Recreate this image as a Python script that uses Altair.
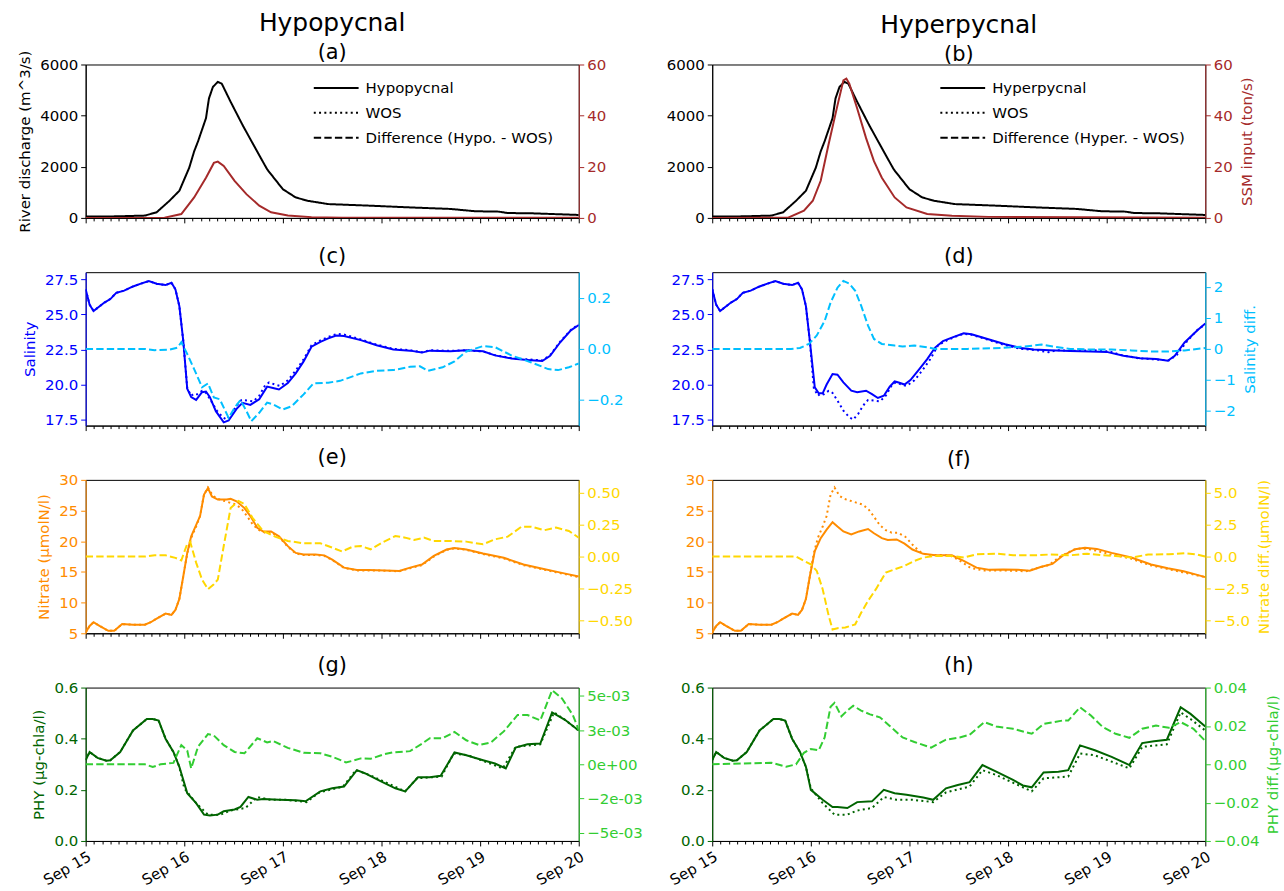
import altair as alt
import pandas as pd

FONT = "DejaVu Sans"
W, H = 495, 154
HSPACE = 134
VSPACE = 54.5

# ---------------- data (t = days since Sep 15 00:00) ----------------
DISCHARGE = [(0, 50), (0.3, 60), (0.6, 90), (0.72, 220), (0.85, 670), (0.95, 1060), (1.05, 1960),
             (1.10, 2600), (1.14, 3000), (1.22, 3900), (1.25, 4670), (1.29, 5120), (1.34, 5320),
             (1.38, 5250), (1.47, 4540), (1.59, 3640), (1.71, 2800), (1.84, 1900), (2.0, 1120),
             (2.13, 800), (2.25, 670), (2.46, 540), (2.87, 480), (3.29, 410), (3.7, 350),
             (3.95, 260), (4.19, 245), (4.28, 190), (4.52, 180), (5.0, 115)]

SSM_HYPO = [(0, 0), (0.8, 0.1), (0.97, 1.5), (1.1, 8), (1.22, 15.7), (1.3, 21.5), (1.34, 22),
            (1.4, 20.3), (1.51, 14.5), (1.63, 9.3), (1.76, 4.8), (1.88, 2.2), (2.05, 0.9),
            (2.29, 0.3), (2.6, 0.1), (5.0, 0.05)]

SSM_HYPER = [(0, 0), (0.77, 0.1), (0.93, 2.8), (1.02, 6.7), (1.1, 14.5), (1.18, 28.8), (1.27, 44),
             (1.33, 53.8), (1.36, 54.5), (1.39, 52.5), (1.47, 42.8), (1.56, 31.2), (1.64, 22.2),
             (1.72, 15.7), (1.85, 8), (1.97, 4.1), (2.18, 1.5), (2.43, 0.8), (2.8, 0.4), (5.0, 0.1)]

SAL_WOS = [(0, 26.8), (0.04, 25.7), (0.08, 25.25), (0.19, 25.85), (0.25, 26.1), (0.31, 26.55),
           (0.39, 26.7), (0.48, 27.0), (0.56, 27.2), (0.64, 27.38), (0.72, 27.2), (0.81, 27.1),
           (0.87, 27.26), (0.91, 26.8), (0.95, 25.6), (0.99, 23.1), (1.03, 19.75), (1.07, 19.2),
           (1.10, 19.35), (1.13, 19.3), (1.18, 19.55), (1.22, 19.4), (1.27, 18.85), (1.33, 18.14),
           (1.39, 17.67), (1.43, 17.5), (1.48, 17.9), (1.53, 18.5), (1.58, 18.9), (1.64, 18.85),
           (1.70, 18.8), (1.76, 19.2), (1.82, 19.95), (1.86, 20.15), (1.92, 20.0), (1.97, 19.9),
           (2.05, 20.3), (2.13, 21.0), (2.21, 21.8), (2.29, 22.8), (2.38, 23.15), (2.46, 23.4),
           (2.55, 23.62), (2.62, 23.57), (2.79, 23.22), (2.95, 22.85), (3.12, 22.55), (3.29, 22.45),
           (3.41, 22.3), (3.49, 22.45), (3.70, 22.4), (3.86, 22.45), (4.03, 22.36), (4.15, 22.1),
           (4.32, 21.88), (4.48, 21.8), (4.63, 21.72), (4.71, 22.1), (4.81, 23.05), (4.92, 23.9),
           (5.0, 24.3)]

SAL_HYPO = [(0, 26.8), (0.04, 25.7), (0.08, 25.25), (0.19, 25.85), (0.25, 26.1), (0.31, 26.55),
            (0.39, 26.7), (0.48, 27.0), (0.56, 27.2), (0.64, 27.38), (0.72, 27.2), (0.81, 27.1),
            (0.87, 27.26), (0.91, 26.8), (0.95, 25.6), (0.99, 23.1), (1.03, 19.7), (1.07, 19.1),
            (1.12, 18.9), (1.18, 19.45), (1.22, 19.5), (1.26, 19.1), (1.32, 18.1), (1.40, 17.3),
            (1.45, 17.43), (1.53, 18.26), (1.59, 18.7), (1.67, 18.55), (1.76, 18.95), (1.84, 19.85),
            (1.90, 19.75), (1.96, 19.65), (2.05, 20.1), (2.13, 20.8), (2.21, 21.65), (2.29, 22.7),
            (2.38, 23.05), (2.46, 23.3), (2.54, 23.5), (2.62, 23.47), (2.79, 23.17), (2.95, 22.8),
            (3.12, 22.5), (3.29, 22.42), (3.41, 22.28), (3.49, 22.42), (3.70, 22.37), (3.86, 22.45),
            (4.03, 22.37), (4.15, 22.08), (4.32, 21.86), (4.48, 21.76), (4.63, 21.68), (4.71, 22.05),
            (4.81, 23.0), (4.92, 23.87), (5.0, 24.25)]

SAL_HYPER = [(0, 26.8), (0.04, 25.7), (0.08, 25.25), (0.19, 25.85), (0.25, 26.1), (0.31, 26.55),
             (0.39, 26.7), (0.48, 27.0), (0.56, 27.2), (0.64, 27.38), (0.72, 27.2), (0.81, 27.1),
             (0.87, 27.26), (0.91, 26.8), (0.95, 25.6), (0.99, 23.1), (1.04, 19.8), (1.08, 19.37),
             (1.12, 19.37), (1.16, 20.0), (1.22, 20.75), (1.27, 20.7), (1.33, 20.15), (1.41, 19.56),
             (1.47, 19.45), (1.56, 19.56), (1.62, 19.32), (1.68, 19.04), (1.74, 19.2), (1.80, 19.85),
             (1.85, 20.22), (1.89, 20.15), (1.95, 20.0), (2.01, 20.32), (2.10, 21.1), (2.18, 21.81),
             (2.26, 22.64), (2.34, 23.1), (2.43, 23.35), (2.55, 23.66), (2.63, 23.59), (2.80, 23.23),
             (2.97, 22.88), (3.13, 22.6), (3.26, 22.5), (3.42, 22.45), (3.63, 22.4), (3.84, 22.36),
             (4.0, 22.33), (4.17, 22.05), (4.34, 21.88), (4.50, 21.83), (4.62, 21.7), (4.69, 22.05),
             (4.79, 23.0), (4.92, 23.88), (5.0, 24.35)]

SAL_DIFF_HYPO = [(0, 0), (0.6, 0), (0.7, -0.005), (0.85, -0.003), (0.93, 0.005), (0.97, 0.026),
                 (1.03, -0.02), (1.10, -0.079), (1.18, -0.15), (1.24, -0.135), (1.30, -0.19),
                 (1.36, -0.197), (1.45, -0.27), (1.51, -0.23), (1.57, -0.2), (1.63, -0.243),
                 (1.68, -0.283), (1.76, -0.25), (1.84, -0.21), (1.90, -0.217), (2.0, -0.237),
                 (2.09, -0.224), (2.21, -0.178), (2.31, -0.135), (2.46, -0.132), (2.58, -0.125),
                 (2.79, -0.096), (2.95, -0.086), (3.12, -0.083), (3.29, -0.07), (3.39, -0.068),
                 (3.47, -0.086), (3.62, -0.072), (3.74, -0.049), (3.86, -0.01), (4.03, 0.011),
                 (4.15, 0.007), (4.32, -0.026), (4.52, -0.053), (4.69, -0.079), (4.79, -0.083),
                 (4.90, -0.072), (5.0, -0.057)]

SAL_DIFF_HYPER = [(0, 0), (0.8, 0), (0.89, 0.03), (0.98, 0.16), (1.06, 0.43), (1.14, 0.9),
                  (1.20, 1.49), (1.27, 1.97), (1.33, 2.19), (1.39, 2.1), (1.45, 1.87), (1.51, 1.39),
                  (1.58, 0.75), (1.64, 0.32), (1.72, 0.16), (1.85, 0.107), (1.93, 0.075),
                  (2.05, 0.107), (2.18, 0.053), (2.26, 0.0), (2.59, 0.0), (2.93, 0.03), (3.17, 0.075),
                  (3.34, 0.14), (3.46, 0.075), (3.63, 0.0), (3.84, -0.02), (4.05, -0.02),
                  (4.25, -0.05), (4.46, -0.085), (4.63, -0.085), (4.79, -0.05), (5.0, 0.03)]

NIT_WOS = [(0, 5.15), (0.04, 6.2), (0.08, 6.8), (0.14, 6.2), (0.23, 5.4), (0.29, 5.4), (0.37, 6.5),
           (0.48, 6.4), (0.60, 6.4), (0.66, 6.8), (0.72, 7.4), (0.81, 8.2), (0.87, 8.0), (0.91, 8.8),
           (0.95, 10.6), (0.99, 14.3), (1.03, 18.0), (1.07, 20.5), (1.12, 22.4), (1.16, 24.1),
           (1.20, 27.6), (1.24, 28.75), (1.29, 27.4), (1.34, 26.9), (1.40, 26.6), (1.46, 26.3),
           (1.52, 26.0), (1.58, 25.3), (1.64, 24.0), (1.70, 22.6), (1.76, 21.8), (1.82, 21.4),
           (1.88, 21.4), (1.96, 20.7), (2.05, 19.1), (2.13, 18.0), (2.21, 17.75), (2.33, 17.75),
           (2.42, 17.6), (2.5, 16.95), (2.62, 15.65), (2.75, 15.25), (2.87, 15.25), (3.04, 15.2),
           (3.18, 15.1), (3.29, 15.6), (3.41, 16.1), (3.53, 17.5), (3.66, 18.6), (3.74, 18.85),
           (3.86, 18.6), (4.03, 17.9), (4.24, 17.2), (4.44, 16.1), (4.61, 15.5), (4.77, 14.95),
           (4.90, 14.5), (5.0, 14.15)]

NIT_HYPO = [(0, 5.15), (0.04, 6.2), (0.08, 6.8), (0.14, 6.2), (0.23, 5.4), (0.29, 5.4), (0.37, 6.5),
            (0.48, 6.4), (0.60, 6.4), (0.66, 6.8), (0.72, 7.4), (0.81, 8.2), (0.87, 8.0), (0.91, 8.8),
            (0.95, 10.6), (0.99, 14.3), (1.03, 18.1), (1.07, 20.8), (1.16, 24.1), (1.20, 27.6),
            (1.24, 28.65), (1.28, 27.3), (1.34, 26.8), (1.43, 26.8), (1.47, 26.9), (1.53, 26.5),
            (1.61, 25.4), (1.67, 24.1), (1.74, 22.2), (1.80, 21.6), (1.88, 21.6), (1.96, 20.8),
            (2.05, 19.2), (2.13, 18.1), (2.21, 17.85), (2.33, 17.85), (2.42, 17.7), (2.5, 17.0),
            (2.62, 15.7), (2.75, 15.3), (2.87, 15.3), (3.04, 15.25), (3.18, 15.15), (3.29, 15.7),
            (3.41, 16.2), (3.53, 17.6), (3.66, 18.65), (3.74, 18.9), (3.86, 18.65), (4.03, 18.0),
            (4.24, 17.3), (4.44, 16.2), (4.61, 15.6), (4.77, 15.05), (4.90, 14.6), (5.0, 14.25)]

NIT_HYPER = [(0, 5.15), (0.04, 6.2), (0.08, 6.8), (0.14, 6.2), (0.23, 5.4), (0.29, 5.4), (0.37, 6.5),
             (0.48, 6.4), (0.60, 6.4), (0.66, 6.8), (0.72, 7.4), (0.81, 8.2), (0.87, 8.0), (0.91, 8.8),
             (0.95, 10.6), (0.99, 14.3), (1.04, 18.4), (1.10, 20.5), (1.16, 21.9), (1.22, 23.1),
             (1.27, 22.4), (1.33, 21.6), (1.41, 21.1), (1.49, 21.6), (1.58, 22.0), (1.64, 21.3),
             (1.72, 20.5), (1.78, 20.2), (1.87, 20.3), (1.95, 19.6), (2.03, 18.65), (2.14, 17.95),
             (2.26, 17.7), (2.43, 17.7), (2.55, 16.8), (2.68, 15.7), (2.80, 15.35), (2.95, 15.4),
             (3.10, 15.35), (3.22, 15.2), (3.33, 15.8), (3.45, 16.3), (3.55, 17.6), (3.68, 18.7),
             (3.78, 18.95), (3.90, 18.75), (4.05, 18.1), (4.25, 17.35), (4.45, 16.2), (4.62, 15.6),
             (4.78, 15.1), (4.90, 14.6), (5.0, 14.15)]

NIT_DIFF_HYPO = [(0, 0), (0.6, 0.0), (0.7, 0.01), (0.81, 0.01), (0.91, -0.01), (0.97, -0.03),
                 (1.03, 0.1), (1.06, 0.115), (1.12, -0.047), (1.18, -0.18), (1.24, -0.255),
                 (1.30, -0.216), (1.34, -0.18), (1.40, 0.083), (1.47, 0.38), (1.55, 0.435),
                 (1.61, 0.41), (1.69, 0.305), (1.80, 0.2), (1.92, 0.156), (2.05, 0.122),
                 (2.21, 0.104), (2.38, 0.104), (2.5, 0.07), (2.6, 0.04), (2.71, 0.078), (2.79, 0.083),
                 (2.89, 0.057), (3.02, 0.115), (3.14, 0.161), (3.24, 0.148), (3.33, 0.13),
                 (3.43, 0.148), (3.53, 0.122), (3.70, 0.122), (3.86, 0.117), (4.03, 0.096),
                 (4.15, 0.135), (4.28, 0.156), (4.42, 0.234), (4.52, 0.234), (4.65, 0.206),
                 (4.77, 0.227), (4.90, 0.2), (5.0, 0.148)]

NIT_DIFF_HYPER = [(0, 0), (0.85, 0), (0.87, -0.08), (0.93, -0.34), (1.0, -0.6), (1.06, -1.12),
                  (1.12, -2.55), (1.18, -4.6), (1.22, -5.7), (1.27, -5.6), (1.35, -5.55),
                  (1.45, -5.3), (1.51, -4.4), (1.58, -3.46), (1.66, -2.55), (1.76, -1.25),
                  (1.85, -1.0), (1.95, -0.73), (2.05, -0.34), (2.14, -0.08), (2.26, 0.05),
                  (2.43, 0.05), (2.55, -0.08), (2.68, 0.18), (2.88, 0.23), (3.05, 0.1), (3.26, 0.1),
                  (3.42, 0.16), (3.63, 0.1), (3.80, 0.23), (3.96, 0.1), (4.09, 0.05), (4.25, -0.08),
                  (4.42, 0.16), (4.63, 0.18), (4.79, 0.26), (4.92, 0.16), (5.0, 0.0)]

PHY_WOS = [(0, 0.316), (0.04, 0.348), (0.12, 0.325), (0.21, 0.314), (0.25, 0.316), (0.35, 0.348),
           (0.48, 0.432), (0.62, 0.477), (0.68, 0.477), (0.74, 0.471), (0.81, 0.4), (0.89, 0.348),
           (0.95, 0.29), (1.0, 0.206), (1.12, 0.148), (1.24, 0.103), (1.37, 0.103), (1.47, 0.119),
           (1.62, 0.129), (1.74, 0.172), (1.87, 0.161), (2.03, 0.161), (2.24, 0.152), (2.37, 0.19),
           (2.61, 0.213), (2.74, 0.277), (2.88, 0.258), (3.24, 0.194), (3.36, 0.245), (3.61, 0.252),
           (3.73, 0.342), (3.88, 0.335), (4.23, 0.284), (4.36, 0.368), (4.61, 0.378), (4.75, 0.503),
           (4.85, 0.477), (5.0, 0.432)]

PHY_HYPO = [(0, 0.316), (0.04, 0.348), (0.12, 0.325), (0.21, 0.314), (0.25, 0.316), (0.35, 0.348),
            (0.48, 0.432), (0.62, 0.477), (0.68, 0.477), (0.74, 0.471), (0.81, 0.4), (0.89, 0.348),
            (0.95, 0.29), (1.03, 0.187), (1.12, 0.148), (1.20, 0.103), (1.26, 0.1), (1.34, 0.103),
            (1.40, 0.116), (1.51, 0.123), (1.57, 0.133), (1.65, 0.172), (1.74, 0.161), (1.80, 0.164),
            (1.96, 0.161), (2.13, 0.159), (2.23, 0.155), (2.38, 0.194), (2.5, 0.206), (2.62, 0.213),
            (2.75, 0.277), (2.83, 0.265), (3.0, 0.232), (3.14, 0.206), (3.24, 0.194), (3.37, 0.249),
            (3.49, 0.249), (3.60, 0.255), (3.74, 0.346), (3.86, 0.335), (4.03, 0.316), (4.15, 0.303),
            (4.26, 0.284), (4.36, 0.365), (4.48, 0.378), (4.61, 0.381), (4.73, 0.503), (4.86, 0.474),
            (5.0, 0.432)]

PHY_HYPER = [(0, 0.316), (0.04, 0.348), (0.12, 0.325), (0.21, 0.314), (0.25, 0.316), (0.35, 0.348),
             (0.48, 0.432), (0.62, 0.477), (0.68, 0.477), (0.74, 0.471), (0.81, 0.4), (0.89, 0.348),
             (0.95, 0.29), (1.0, 0.2), (1.12, 0.161), (1.22, 0.133), (1.27, 0.133), (1.37, 0.129),
             (1.47, 0.152), (1.62, 0.155), (1.74, 0.2), (1.85, 0.187), (1.97, 0.181), (2.14, 0.17),
             (2.24, 0.161), (2.37, 0.206), (2.49, 0.219), (2.61, 0.23), (2.74, 0.297), (2.88, 0.271),
             (3.05, 0.239), (3.15, 0.217), (3.24, 0.21), (3.36, 0.268), (3.51, 0.271), (3.61, 0.277),
             (3.73, 0.374), (3.88, 0.355), (4.05, 0.329), (4.23, 0.297), (4.36, 0.383), (4.48, 0.39),
             (4.61, 0.396), (4.75, 0.523), (4.85, 0.497), (5.0, 0.448)]

PHY_DIFF_HYPO = [(0, 0), (0.6, 0), (0.68, -0.0002), (0.76, 0), (0.89, 0.0001), (0.97, 0.0014),
                 (1.03, 0.001), (1.07, -0.0003), (1.14, 0.0013), (1.24, 0.0022), (1.30, 0.0021),
                 (1.40, 0.0014), (1.51, 0.0009), (1.61, 0.0008), (1.74, 0.0019), (1.84, 0.0016),
                 (1.90, 0.0017), (2.05, 0.0012), (2.21, 0.00084), (2.38, 0.0008), (2.5, 0.00055),
                 (2.64, 0.00014), (2.71, 0.00026), (2.79, 0.00043), (2.89, 0.0004), (3.02, 0.00072),
                 (3.12, 0.00087), (3.29, 0.00096), (3.41, 0.0015), (3.49, 0.0019), (3.62, 0.0019),
                 (3.74, 0.00236), (3.86, 0.00175), (3.99, 0.0014), (4.11, 0.0016), (4.24, 0.0024),
                 (4.38, 0.0036), (4.48, 0.0036), (4.61, 0.0032), (4.73, 0.0054), (4.83, 0.0048),
                 (4.94, 0.0036), (5.0, 0.0025)]

PHY_DIFF_HYPER = [(0, 0), (0.6, 0.0008), (0.75, -0.0013), (0.85, 0), (0.93, 0.006), (1.0, 0.008),
                  (1.08, 0.0073), (1.14, 0.014), (1.20, 0.03), (1.24, 0.032), (1.31, 0.025),
                  (1.37, 0.028), (1.43, 0.0305), (1.51, 0.028), (1.60, 0.026), (1.70, 0.0245),
                  (1.80, 0.02), (1.93, 0.014), (2.05, 0.0116), (2.22, 0.0087), (2.37, 0.0128),
                  (2.51, 0.014), (2.61, 0.0154), (2.76, 0.022), (2.88, 0.0197), (3.05, 0.0185),
                  (3.24, 0.0159), (3.36, 0.021), (3.55, 0.0228), (3.61, 0.0228), (3.73, 0.0297),
                  (3.84, 0.0254), (3.96, 0.0194), (4.09, 0.0159), (4.23, 0.0138), (4.36, 0.0185),
                  (4.50, 0.0202), (4.63, 0.019), (4.75, 0.022), (4.88, 0.0185), (5.0, 0.0121)]

LEG_HYPO = ["Hypopycnal", "WOS", "Difference (Hypo. - WOS)"]
LEG_HYPER = ["Hyperpycnal", "WOS", "Difference (Hyper. - WOS)"]

# ---------------- styles ----------------
BLACK, BROWN = "#000000", "#a52a2a"
BLUE, SKY = "#0000ff", "#00bfff"
ORANGE, GOLD = "#ff8c00", "#ffd700"
DGREEN, LGREEN = "#006400", "#32cd32"
DOT = [2, 3.3]
DASH = [7.4, 3.2]

MINOR = [round(k / 12, 6) for k in range(61)]
MAJOR_TEST = "abs(datum.value - round(datum.value)) < 0.001"


def frame(pairs, kind=None):
    d = pd.DataFrame(pairs, columns=["t", "v"])
    if kind is not None:
        d["kind"] = kind
    return d


def x_enc(show):
    axis = alt.Axis(values=MINOR, title="", grid=False, domainColor="black", domainWidth=1,
                    tickColor="black", tickWidth=1,
                    tickSize={"condition": {"test": MAJOR_TEST, "value": 5}, "value": 3},
                    labels=show,
                    labelExpr=f"{MAJOR_TEST} ? 'Sep ' + (15 + round(datum.value)) : ''",
                    labelAngle=330, labelAlign="right", labelBaseline="top", labelFontSize=15,
                    labelFont=FONT, labelColor="black", labelOverlap=False, labelFlush=False,
                    labelPadding=3)
    return alt.X("t:Q", scale=alt.Scale(domain=[0, 5], nice=False, zero=False), axis=axis)


def y_enc(domain, values, color, orient, title="", fmt=None, expr=None):
    kw = dict(orient=orient, values=values, title=title, grid=False, domainColor=color,
              domainWidth=1, tickColor=color, tickSize=5, tickWidth=1, labelColor=color,
              labelFontSize=15, labelFont=FONT, labelPadding=3, titleColor=color,
              titleFontSize=15, titleFont=FONT, titleFontWeight="normal", titlePadding=7,
              labelOverlap=False)
    if fmt:
        kw["format"] = fmt
    if expr:
        kw["labelExpr"] = expr
    if orient == "right":
        kw["titleAngle"] = 270
        kw["titleBaseline"] = "top"
    return alt.Y("v:Q", scale=alt.Scale(domain=domain, nice=False, zero=False),
                 axis=alt.Axis(**kw))


def line(pairs, color, y, show_x, dash=None):
    props = dict(color=color, strokeWidth=2, clip=True)
    if dash:
        props["strokeDash"] = dash
    return alt.Chart(frame(pairs)).mark_line(**props).encode(x=x_enc(show_x), y=y)


def legend_line(pairs, labels, y):
    leg = alt.Legend(title="", orient="none", legendX=258, legendY=15, symbolType="M-5,0L1,0",
                     symbolSize=225, symbolStrokeWidth=2, symbolStrokeColor="black",
                     labelFontSize=15, labelFont=FONT, labelColor="black", labelOffset=6,
                     rowPadding=8, padding=0, labelLimit=400)
    return alt.Chart(frame(pairs, labels[0])).mark_line(color=BLACK, strokeWidth=2, clip=True).encode(
        x=x_enc(False), y=y,
        strokeDash=alt.StrokeDash("kind:N", scale=alt.Scale(domain=labels, range=[[1, 0], DOT, DASH]),
                                  legend=leg))


def title_small(txt, offset=5):
    return alt.TitleParams(text=txt, fontSize=21, font=FONT, fontWeight="normal", color="black",
                           anchor="middle", offset=offset)


def title_top(main, sub, offset):
    return alt.TitleParams(text=main, subtitle=sub, fontSize=25, subtitleFontSize=21, font=FONT,
                           subtitleFont=FONT, fontWeight="normal", color="black",
                           subtitleColor="black", anchor="middle", offset=offset, subtitlePadding=6)


def panel(left_layers, right_layers, title):
    return alt.layer(alt.layer(*left_layers), alt.layer(*right_layers)).resolve_scale(
        y="independent").properties(width=W, height=H, title=title)


# ---------------- panels ----------------
# row 1
ya_l = y_enc([0, 6000], [0, 2000, 4000, 6000], BLACK, "left", "River discharge (m^3/s)", "d")
ya_r = y_enc([0, 60], [0, 20, 40, 60], BROWN, "right", "", "d")
pa = panel([legend_line(DISCHARGE, LEG_HYPO, ya_l)], [line(SSM_HYPO, BROWN, ya_r, False)],
           title_top("Hypopycnal", "(a)", -13))
yb_l = y_enc([0, 6000], [0, 2000, 4000, 6000], BLACK, "left", "", "d")
yb_r = y_enc([0, 60], [0, 20, 40, 60], BROWN, "right", "SSM input (ton/s)", "d")
pb = panel([legend_line(DISCHARGE, LEG_HYPER, yb_l)], [line(SSM_HYPER, BROWN, yb_r, False)],
           title_top("Hyperpycnal", "(b)", -7))

# row 2
SAL_DOM = [17.07, 28.02]
SAL_TICKS = [17.5, 20, 22.5, 25, 27.5]
yc_l = y_enc(SAL_DOM, SAL_TICKS, BLUE, "left", "Salinity", ".1f")
yc_r = y_enc([-0.3, 0.3], [-0.2, 0, 0.2], SKY, "right", "", ".1f")
pc = panel([line(SAL_HYPO, BLUE, yc_l, False), line(SAL_WOS, BLUE, yc_l, False, DOT)],
           [line(SAL_DIFF_HYPO, SKY, yc_r, False, DASH)], title_small("(c)"))
yd_l = y_enc(SAL_DOM, SAL_TICKS, BLUE, "left", "", ".1f")
yd_r = y_enc([-2.47, 2.47], [-2, -1, 0, 1, 2], SKY, "right", "Salinity diff.", "d")
pd_ = panel([line(SAL_HYPER, BLUE, yd_l, False), line(SAL_WOS, BLUE, yd_l, False, DOT)],
            [line(SAL_DIFF_HYPER, SKY, yd_r, False, DASH)], title_small("(d)"))

# row 3
NIT_TICKS = [5, 10, 15, 20, 25, 30]
ye_l = y_enc([5, 30], NIT_TICKS, ORANGE, "left", "Nitrate (µmolN/l)", "d")
ye_r = y_enc([-0.6, 0.6], [-0.5, -0.25, 0, 0.25, 0.5], GOLD, "right", "", ".2f")
pe = panel([line(NIT_HYPO, ORANGE, ye_l, False), line(NIT_WOS, ORANGE, ye_l, False, DOT)],
           [line(NIT_DIFF_HYPO, GOLD, ye_r, False, DASH)], title_small("(e)"))
yf_l = y_enc([5, 30], NIT_TICKS, ORANGE, "left", "", "d")
yf_r = y_enc([-6, 6], [-5, -2.5, 0, 2.5, 5], GOLD, "right", "Nitrate diff.(µmolN/l)", ".1f")
pf = panel([line(NIT_HYPER, ORANGE, yf_l, False), line(NIT_WOS, ORANGE, yf_l, False, DOT)],
           [line(NIT_DIFF_HYPER, GOLD, yf_r, False, DASH)], title_small("(f)", 3))

# row 4
PHY_TICKS = [0, 0.2, 0.4, 0.6]
G_EXPR = ("datum.value > 0.004 ? '5e-03' : datum.value > 0.001 ? '3e-03' : "
          "datum.value > -0.001 ? '0e+00' : datum.value > -0.004 ? '\u22122e-03' : '\u22125e-03'")
yg_l = y_enc([0, 0.6], PHY_TICKS, DGREEN, "left", "PHY (µg-chla/l)", ".1f")
yg_r = y_enc([-0.0056, 0.0056], [-0.005, -0.0025, 0, 0.0025, 0.005], LGREEN, "right", "",
             None, G_EXPR)
pg = panel([line(PHY_HYPO, DGREEN, yg_l, True), line(PHY_WOS, DGREEN, yg_l, True, DOT)],
           [line(PHY_DIFF_HYPO, LGREEN, yg_r, True, DASH)], title_small("(g)"))
yh_l = y_enc([0, 0.6], PHY_TICKS, DGREEN, "left", "", ".1f")
yh_r = y_enc([-0.04, 0.04], [-0.04, -0.02, 0, 0.02, 0.04], LGREEN, "right",
             "PHY diff.(µg-chla/l)", ".2f")
ph = panel([line(PHY_HYPER, DGREEN, yh_l, True), line(PHY_WOS, DGREEN, yh_l, True, DOT)],
           [line(PHY_DIFF_HYPER, LGREEN, yh_r, True, DASH)], title_small("(h)"))

chart = alt.concat(pa, pb, pc, pd_, pe, pf, pg, ph, columns=2,
                   spacing={"row": VSPACE, "column": HSPACE}, bounds="flush").resolve_scale(
    strokeDash="independent").resolve_legend(strokeDash="independent").properties(
    padding={"left": 17, "top": 9, "right": 2, "bottom": 5},
    background="white",
).configure(font=FONT).configure_view(stroke="black", strokeWidth=1)

chart.save("out.html", embed_options={"renderer": "svg", "actions": False})
